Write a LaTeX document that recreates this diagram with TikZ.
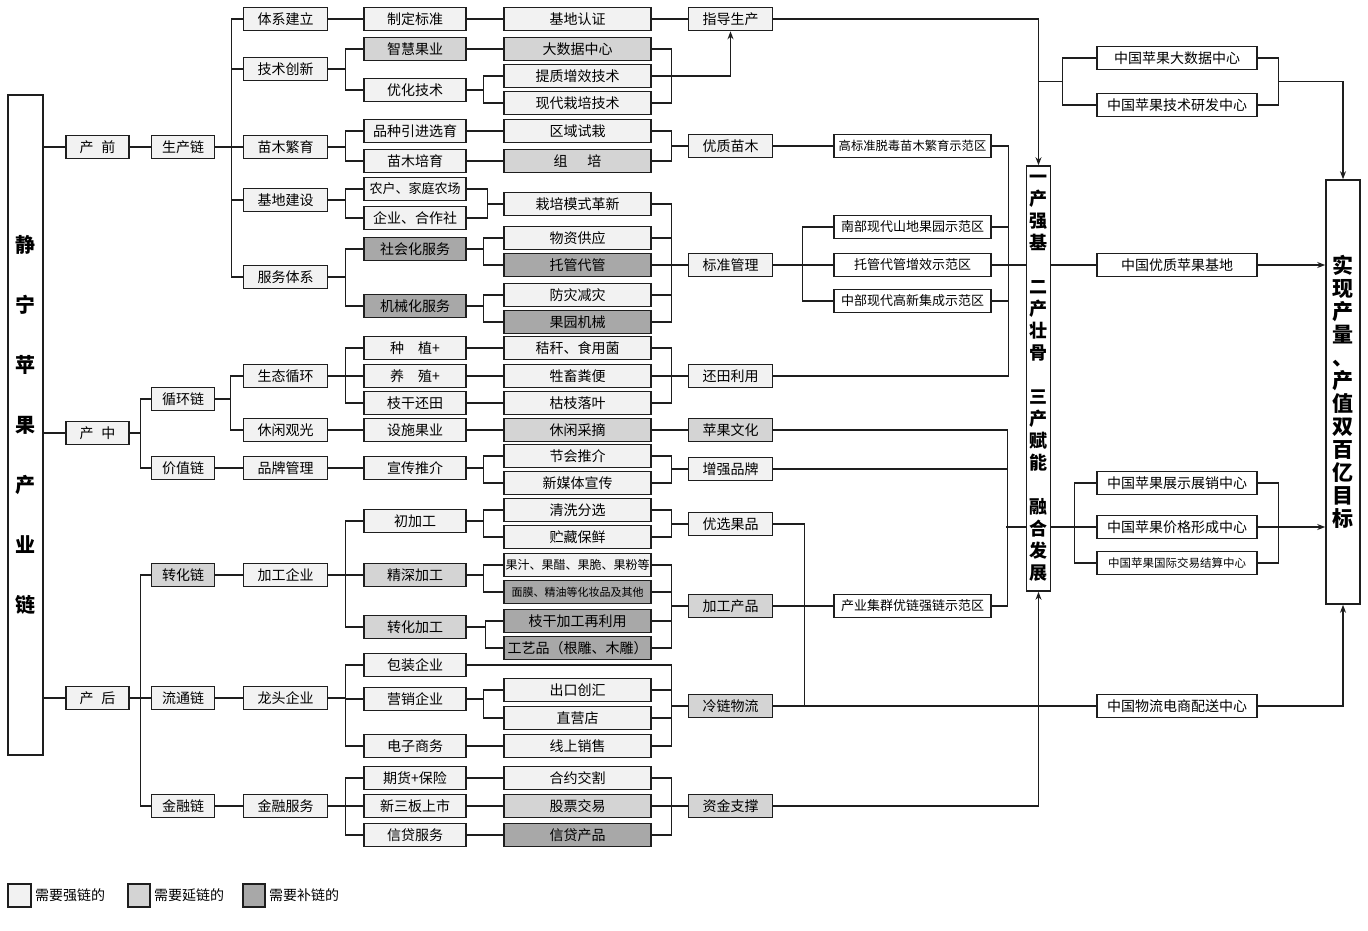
\documentclass[tikz,border=0pt]{standalone}
\usepackage{fontspec}
\setmainfont{Noto Sans CJK SC}
\usetikzlibrary{positioning,arrows.meta,calc}
\definecolor{ink}{RGB}{30,30,30}
\definecolor{qiangfill}{RGB}{242,242,242}
\definecolor{yanfill}{RGB}{212,212,212}
\definecolor{bufill}{RGB}{168,168,168}

\begin{document}
\begin{tikzpicture}[x=1pt,y=-1pt,
  every node/.style={font=\fontsize{14}{16}\selectfont},
  cell/.style={draw=ink,line width=1.6pt,minimum height=23,inner sep=0pt,fill=qiangfill},
  boxs/.style={cell,minimum width=63},
  boxm/.style={cell,minimum width=84},
  boxl/.style={cell,minimum width=102},
  boxxl/.style={cell,minimum width=147},
  zonebox/.style={cell,minimum width=157,fill=white,font=\fontsize{13}{15}\selectfont},
  hubbox/.style={cell,minimum width=160,fill=white},
  tallbox/.style={draw=ink,line width=1.6pt,fill=white,inner sep=0pt,align=center},
  yan/.style={fill=yanfill},
  bu/.style={fill=bufill},
  link/.style={draw=ink,line width=1.3pt},
  arrow/.style={link,-{Stealth[length=8pt,width=6pt]}}
]
\fill[white] (0,0) rectangle (1368,930);
\useasboundingbox (0,0) rectangle (1368,930);

% left and right frames
\node[tallbox,minimum width=35,minimum height=660,font=\fontsize{20}{60}\selectfont\bfseries] (jn) at (25.5,425) {静\\宁\\苹\\果\\产\\业\\链};
\node[tallbox,minimum width=24,minimum height=425,font=\fontsize{18}{22}\selectfont\bfseries] (yc) at (1038.5,378.5) {一\\产\\强\\基\\[22pt]二\\产\\壮\\骨\\[22pt]三\\产\\赋\\能\\[22pt]融\\合\\发\\展};
\node[tallbox,minimum width=34,minimum height=424,font=\fontsize{21}{23}\selectfont\bfseries] (sx) at (1343,392) {实\\现\\产\\量\\、\\产\\值\\双\\百\\亿\\目\\标};

% stages
\node[boxs] (qian) at (97.5,147) {产\hspace{8pt}前};
\node[boxs] (zhong) at (97.5,433) {产\hspace{8pt}中};
\node[boxs] (hou) at (97.5,698) {产\hspace{8pt}后};

% chains
\node[boxs] (scl) at (183,147) {生产链};
\node[boxs] (xhl) at (183,399) {循环链};
\node[boxs] (jzl) at (183,468) {价值链};
\node[boxs,yan] (zhl) at (183,575) {转化链};
\node[boxs] (ltl) at (183,698) {流通链};
\node[boxs] (jrl) at (183,806) {金融链};

% modules
\node[boxm] (txjl) at (285.5,19) {体系建立};
\node[boxm] (jscx) at (285.5,69) {技术创新};
\node[boxm] (mmfy) at (285.5,147) {苗木繁育};
\node[boxm] (jdjs) at (285.5,200) {基地建设};
\node[boxm] (fwtx) at (285.5,277) {服务体系};
\node[boxm] (stxh) at (285.5,376) {生态循环};
\node[boxm] (xxgg) at (285.5,430) {休闲观光};
\node[boxm] (ppgl) at (285.5,468) {品牌管理};
\node[boxm] (jgqy) at (285.5,575) {加工企业};
\node[boxm] (ltqy) at (285.5,698) {龙头企业};
\node[boxm] (jrfw) at (285.5,806) {金融服务};

% measures
\node[boxl] (zdbz) at (415,19) {制定标准};
\node[boxl,yan] (zhgy) at (415,49) {智慧果业};
\node[boxl] (yhjs) at (415,90) {优化技术};
\node[boxl] (pzyj) at (415,131) {品种引进选育};
\node[boxl] (mmpy) at (415,161) {苗木培育};
\node[boxl,font=\fontsize{13}{15}\selectfont] (nhjt) at (415,189) {农户、家庭农场};
\node[boxl] (qyhz) at (415,218) {企业、合作社};
\node[boxl,bu] (shfw) at (415,249) {社会化服务};
\node[boxl,bu] (jxfw) at (415,306) {机械化服务};
\node[boxl] (zhzh) at (415,348) {种\hspace{14pt}植+};
\node[boxl] (yangz) at (415,376) {养\hspace{14pt}殖+};
\node[boxl] (zght) at (415,403) {枝干还田};
\node[boxl] (ssgy) at (415,430) {设施果业};
\node[boxl] (xctj) at (415,468) {宣传推介};
\node[boxl] (cjg) at (415,521) {初加工};
\node[boxl,yan] (jsjg) at (415,575) {精深加工};
\node[boxl,yan] (zhjg) at (415,627) {转化加工};
\node[boxl] (bzqy) at (415,665) {包装企业};
\node[boxl] (yxqy) at (415,699) {营销企业};
\node[boxl] (dzsw) at (415,746) {电子商务};
\node[boxl] (qhbx) at (415,778) {期货+保险};
\node[boxl] (xsb) at (415,806) {新三板上市};
\node[boxl] (xdfw) at (415,835) {信贷服务};

% carriers
\node[boxxl] (jdrz) at (577.5,19) {基地认证};
\node[boxxl,yan] (dsj) at (577.5,49) {大数据中心};
\node[boxxl] (tzzx) at (577.5,76) {提质增效技术};
\node[boxxl] (xdzp) at (577.5,103) {现代栽培技术};
\node[boxxl] (qyss) at (577.5,131) {区域试栽};
\node[boxxl,yan] (zupei) at (577.5,161) {组\hspace{20pt}培};
\node[boxxl] (zpms) at (577.5,204) {栽培模式革新};
\node[boxxl] (wzgy) at (577.5,238) {物资供应};
\node[boxxl,bu] (tgdg) at (577.5,265) {托管代管};
\node[boxxl] (fzjz) at (577.5,295) {防灾减灾};
\node[boxxl,bu] (gyjx) at (577.5,322) {果园机械};
\node[boxxl] (jgsy) at (577.5,348) {秸秆、食用菌};
\node[boxxl] (sxfb) at (577.5,376) {牲畜粪便};
\node[boxxl] (kzly) at (577.5,403) {枯枝落叶};
\node[boxxl,yan] (xxcz) at (577.5,430) {休闲采摘};
\node[boxxl] (jhtj) at (577.5,456) {节会推介};
\node[boxxl] (xmt) at (577.5,483) {新媒体宣传};
\node[boxxl] (qxfx) at (577.5,510) {清洗分选};
\node[boxxl] (zcbx) at (577.5,537) {贮藏保鲜};
\node[boxxl,font=\fontsize{12}{14}\selectfont] (guozhi) at (577.5,565) {果汁、果醋、果脆、果粉等};
\node[boxxl,bu,font=\fontsize{11}{13}\selectfont] (miamo) at (577.5,592) {面膜、精油等化妆品及其他};
\node[boxxl,bu] (zgzly) at (577.5,621) {枝干加工再利用};
\node[boxxl,bu] (gyp) at (577.5,648) {工艺品（根雕、木雕）};
\node[boxxl] (ckch) at (577.5,690) {出口创汇};
\node[boxxl] (zyd) at (577.5,718) {直营店};
\node[boxxl] (xsxs) at (577.5,746) {线上销售};
\node[boxxl] (hyjg) at (577.5,778) {合约交割};
\node[boxxl,yan] (gpjy) at (577.5,806) {股票交易};
\node[boxxl,bu] (xdcp) at (577.5,835) {信贷产品};

% results
\node[boxm] (zdsc) at (730.5,19) {指导生产};
\node[boxm] (yzmm) at (730.5,146) {优质苗木};
\node[boxm] (bzgl) at (730.5,265) {标准管理};
\node[boxm] (htly) at (730.5,376) {还田利用};
\node[boxm,yan] (pgwh) at (730.5,430) {苹果文化};
\node[boxm] (zqpp) at (730.5,469) {增强品牌};
\node[boxm] (yxgp) at (730.5,524) {优选果品};
\node[boxm,yan] (jgcp) at (730.5,606) {加工产品};
\node[boxm,yan] (llwl) at (730.5,706) {冷链物流};
\node[boxm,yan] (zjzc) at (730.5,806) {资金支撑};

% demonstration zones
\node[zonebox,font=\fontsize{12.3}{14}\selectfont] (gbz) at (912.5,146) {高标准脱毒苗木繁育示范区};
\node[zonebox] (nbxd) at (912.5,227) {南部现代山地果园示范区};
\node[zonebox] (tgzx) at (912.5,265) {托管代管增效示范区};
\node[zonebox] (zbxd) at (912.5,301) {中部现代高新集成示范区};
\node[zonebox] (cyjq) at (912.5,606) {产业集群优链强链示范区};

% national centres
\node[hubbox] (dsjzx) at (1177,58) {中国苹果大数据中心};
\node[hubbox] (jsyf) at (1177,105) {中国苹果技术研发中心};
\node[hubbox] (yzjd) at (1177,265) {中国优质苹果基地};
\node[hubbox] (zszx) at (1177,483) {中国苹果展示展销中心};
\node[hubbox] (jgxc) at (1177,527) {中国苹果价格形成中心};
\node[hubbox,font=\fontsize{11.5}{13}\selectfont] (gjjy) at (1177,563) {中国苹果国际交易结算中心};
\node[hubbox] (wldx) at (1177,706) {中国物流电商配送中心};

% legend
\node[cell,minimum width=23] (lg1) at (19.5,895.5) {};
\node[right=3pt of lg1,inner sep=0pt] (lt1) {需要强链的};
\node[cell,yan,minimum width=22] (lg2) at (139,895.5) {};
\node[right=3pt of lg2,inner sep=0pt] (lt2) {需要延链的};
\node[cell,bu,minimum width=22] (lg3) at (254,895.5) {};
\node[right=3pt of lg3,inner sep=0pt] (lt3) {需要补链的};

% frame to stages
\draw[link] (jn.east |- qian.west) -- (qian.west);
\draw[link] (jn.east |- zhong.west) -- (zhong.west);
\draw[link] (jn.east |- hou.west) -- (hou.west);

% stages to chains
\draw[link] (qian.east) -- (scl.west);
\draw[link] (zhong.east) -- ++(11,0) |- (xhl.west);
\draw[link] (zhong.east) -- ++(11,0) |- (jzl.west);
\draw[link] (hou.east) -- ++(11,0) |- (zhl.west);
\draw[link] (hou.east) -- ++(11,0) |- (ltl.west);
\draw[link] (hou.east) -- ++(11,0) |- (jrl.west);

% chains to modules
\draw[link] (scl.east) -- ++(16,0) |- (txjl.west);
\draw[link] (scl.east) -- ++(16,0) |- (jscx.west);
\draw[link] (scl.east) -- ++(16,0) |- (mmfy.west);
\draw[link] (scl.east) -- ++(16,0) |- (jdjs.west);
\draw[link] (scl.east) -- ++(16,0) |- (fwtx.west);
\draw[link] (xhl.east) -- ++(15,0) |- (stxh.west);
\draw[link] (xhl.east) -- ++(15,0) |- (xxgg.west);
\draw[link] (jzl.east) -- (ppgl.west);
\draw[link] (zhl.east) -- (jgqy.west);
\draw[link] (ltl.east) -- (ltqy.west);
\draw[link] (jrl.east) -- (jrfw.west);

% modules to measures
\draw[link] (txjl.east) -- (zdbz.west);
\draw[link] (jscx.east) -- ++(17,0) |- (zhgy.west);
\draw[link] (jscx.east) -- ++(17,0) |- (yhjs.west);
\draw[link] (mmfy.east) -- ++(17,0) |- (pzyj.west);
\draw[link] (mmfy.east) -- ++(17,0) |- (mmpy.west);
\draw[link] (jdjs.east) -- ++(17,0) |- (nhjt.west);
\draw[link] (jdjs.east) -- ++(17,0) |- (qyhz.west);
\draw[link] (fwtx.east) -- ++(17,0) |- (shfw.west);
\draw[link] (fwtx.east) -- ++(17,0) |- (jxfw.west);
\draw[link] (stxh.east) -- ++(17,0) |- (zhzh.west);
\draw[link] (stxh.east) -- ++(17,0) |- (yangz.west);
\draw[link] (stxh.east) -- ++(17,0) |- (zght.west);
\draw[link] (xxgg.east) -- (ssgy.west);
\draw[link] (ppgl.east) -- (xctj.west);
\draw[link] (jgqy.east) -- ++(17,0) |- (cjg.west);
\draw[link] (jgqy.east) -- ++(17,0) |- (jsjg.west);
\draw[link] (jgqy.east) -- ++(17,0) |- (zhjg.west);
\draw[link] (ltqy.east) -- ++(17,0) |- (bzqy.west);
\draw[link] (ltqy.east) -- ++(17,0) |- (yxqy.west);
\draw[link] (ltqy.east) -- ++(17,0) |- (dzsw.west);
\draw[link] (jrfw.east) -- ++(17,0) |- (qhbx.west);
\draw[link] (jrfw.east) -- ++(17,0) |- (xsb.west);
\draw[link] (jrfw.east) -- ++(17,0) |- (xdfw.west);

% measures to carriers
\draw[link] (zdbz.east) -- (jdrz.west);
\draw[link] (zhgy.east) -- (dsj.west);
\draw[link] (yhjs.east) -- ++(17,0) |- (tzzx.west);
\draw[link] (yhjs.east) -- ++(17,0) |- (xdzp.west);
\draw[link] (pzyj.east) -- (qyss.west);
\draw[link] (mmpy.east) -- (zupei.west);
\draw[link] (nhjt.east) -- ++(21,0) |- (zpms.west);
\draw[link] (qyhz.east) -- ++(21,0) |- (zpms.west);
\draw[link] (shfw.east) -- ++(17,0) |- (wzgy.west);
\draw[link] (shfw.east) -- ++(17,0) |- (tgdg.west);
\draw[link] (jxfw.east) -- ++(17,0) |- (fzjz.west);
\draw[link] (jxfw.east) -- ++(17,0) |- (gyjx.west);
\draw[link] (zhzh.east) -- (jgsy.west);
\draw[link] (yangz.east) -- (sxfb.west);
\draw[link] (zght.east) -- (kzly.west);
\draw[link] (ssgy.east) -- (xxcz.west);
\draw[link] (xctj.east) -- ++(17,0) |- (jhtj.west);
\draw[link] (xctj.east) -- ++(17,0) |- (xmt.west);
\draw[link] (cjg.east) -- ++(17,0) |- (qxfx.west);
\draw[link] (cjg.east) -- ++(17,0) |- (zcbx.west);
\draw[link] (jsjg.east) -- ++(17,0) |- (guozhi.west);
\draw[link] (jsjg.east) -- ++(17,0) |- (miamo.west);
\draw[link] (zhjg.east) -- ++(19,0) |- (zgzly.west);
\draw[link] (zhjg.east) -- ++(19,0) |- (gyp.west);
\draw[link] (bzqy.east) -- ++(205,0) |- (llwl.west);
\draw[link] (yxqy.east) -- ++(17,0) |- (ckch.west);
\draw[link] (yxqy.east) -- ++(17,0) |- (zyd.west);
\draw[link] (dzsw.east) -- (xsxs.west);
\draw[link] (qhbx.east) -- (hyjg.west);
\draw[link] (xsb.east) -- (gpjy.west);
\draw[link] (xdfw.east) -- (xdcp.west);

% carriers to results
\draw[link] (jdrz.east) -- (zdsc.west);
\draw[link] (dsj.east) -- ++(20,0) |- (xdzp.east);
\draw[arrow] (tzzx.east) -| (zdsc.south);
\draw[link] (qyss.east) -- ++(20,0) |- (yzmm.west);
\draw[link] (zupei.east) -- ++(20,0) |- (yzmm.west);
\draw[link] (zpms.east) -- ++(20,0) |- (bzgl.west);
\draw[link] (wzgy.east) -- ++(20,0) |- (bzgl.west);
\draw[link] (tgdg.east) -- ++(20,0) |- (bzgl.west);
\draw[link] (fzjz.east) -- ++(20,0) |- (bzgl.west);
\draw[link] (gyjx.east) -- ++(20,0) |- (bzgl.west);
\draw[link] (jgsy.east) -- ++(20,0) |- (htly.west);
\draw[link] (sxfb.east) -- ++(20,0) |- (htly.west);
\draw[link] (kzly.east) -- ++(20,0) |- (htly.west);
\draw[link] (xxcz.east) -- (pgwh.west);
\draw[link] (jhtj.east) -- ++(20,0) |- (zqpp.west);
\draw[link] (xmt.east) -- ++(20,0) |- (zqpp.west);
\draw[link] (qxfx.east) -- ++(20,0) |- (yxgp.west);
\draw[link] (zcbx.east) -- ++(20,0) |- (yxgp.west);
\draw[link] (guozhi.east) -- ++(20,0) |- (jgcp.west);
\draw[link] (miamo.east) -- ++(20,0) |- (jgcp.west);
\draw[link] (zgzly.east) -- ++(20,0) |- (jgcp.west);
\draw[link] (gyp.east) -- ++(20,0) |- (jgcp.west);
\draw[link] (ckch.east) -- ++(20,0) |- (llwl.west);
\draw[link] (zyd.east) -- ++(20,0) |- (llwl.west);
\draw[link] (xsxs.east) -- ++(20,0) |- (llwl.west);
\draw[link] (hyjg.east) -- ++(20,0) |- (zjzc.west);
\draw[link] (gpjy.east) -- ++(20,0) |- (zjzc.west);
\draw[link] (xdcp.east) -- ++(20,0) |- (zjzc.west);

% results to zones
\draw[link] (yzmm.east) -- (gbz.west);
\draw[link] (bzgl.east) -- ++(29,0) |- (nbxd.west);
\draw[link] (bzgl.east) -- ++(29,0) |- (tgzx.west);
\draw[link] (bzgl.east) -- ++(29,0) |- (zbxd.west);
\draw[link] (jgcp.east) -- (cyjq.west);

% into the middle frame
\draw[link] (gbz.east) -- ++(17,0) |- (htly.east);
\draw[link] (nbxd.east) -- ++(17,0);
\draw[link] (zbxd.east) -- ++(17,0);
\draw[link] (tgzx.east) -- (yc.west |- tgzx.east);
\draw[link] (pgwh.east) -- ++(234,0) |- (cyjq.east);
\draw[link] (zqpp.east) -- ++(234,0);
\draw[link] (yc.west |- jgxc.west) -- ++(-20,0);
\draw[link] (yxgp.east) -- ++(31,0) |- (llwl.east);
\draw[arrow] (zdsc.east) -| (yc.north);
\draw[arrow] (zjzc.east) -| (yc.south);

% centres to the goal
\coordinate (zxl) at ($(dsjzx.west)!0.5!(jsyf.west)+(-34,0)$);
\coordinate (zxr) at ($(dsjzx.east)!0.5!(jsyf.east)+(21,0)$);
\draw[link] (dsjzx.west) -- ++(-34,0) |- (jsyf.west);
\draw[link] (dsjzx.east) -- ++(21,0) |- (jsyf.east);
\draw[link] (zxl) -- (yc.north |- zxl);
\draw[arrow] (zxr) -| (sx.north);
\draw[link] (yc.east |- yzjd.west) -- (yzjd.west);
\draw[arrow] (yzjd.east) -- (sx.west |- yzjd.east);
\draw[link] (zszx.west) -- ++(-22,0) |- (gjjy.west);
\draw[link] (zszx.east) -- ++(21,0) |- (gjjy.east);
\draw[link] (yc.east |- jgxc.west) -- (jgxc.west);
\draw[arrow] (jgxc.east) -- (sx.west |- jgxc.east);
\draw[link] (llwl.east) -- (wldx.west);
\draw[arrow] (wldx.east) -| (sx.south);
\end{tikzpicture}
\end{document}
